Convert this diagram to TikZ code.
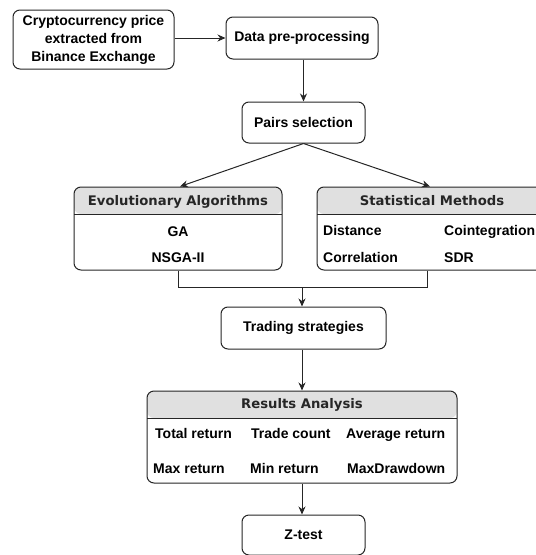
\documentclass[tikz,border=0pt]{standalone}
\usepackage{fontspec}
\setmainfont{Liberation Sans}
\newfontfamily\hdrfont{DejaVu Sans}
\usetikzlibrary{arrows.meta,calc}
\definecolor{linec}{HTML}{262626}
\definecolor{hdrfill}{HTML}{E0E0E0}
\begin{document}
\begin{tikzpicture}[x=1pt,y=-1pt,
  box/.style={draw=linec, line width=1pt, rounded corners=7pt, fill=white,
    align=center, inner sep=0pt,
    font=\bfseries\fontsize{14}{18}\selectfont},
  swim/.style={box, path picture={
      \fill[hdrfill] (path picture bounding box.north west) rectangle
        ($(path picture bounding box.north east)+(0,27)$);
      \draw[linec, line width=1pt]
        ($(path picture bounding box.north west)+(0,27)$) --
        ($(path picture bounding box.north east)+(0,27)$);}},
  lbl/.style={inner sep=0pt, text height=10pt, text depth=0pt,
    font=\bfseries\fontsize{14}{16}\selectfont},
  hdr/.style={inner sep=0pt, text height=9.6pt, text depth=0pt,
    font=\hdrfont\bfseries\fontsize{13.2}{15}\selectfont, text=black!85},
  arr/.style={draw=linec, line width=1pt, -{Stealth[length=8pt,width=7pt]}},
  wire/.style={draw=linec, line width=1pt}
]
\useasboundingbox (0,0) rectangle (536,555);

% process boxes
\node[box, minimum width=161pt, minimum height=59pt] (crypto) at (93.5,39.5)
  {Cryptocurrency price\\extracted from\\Binance Exchange};
\node[box, minimum width=152pt, minimum height=42pt] (prep) at (302,38)
  {Data pre-processing};
\node[box, minimum width=123pt, minimum height=41pt] (pairs) at (303.5,122.5)
  {Pairs selection};
\node[box, minimum width=165pt, minimum height=42pt] (trade) at (303.5,328)
  {Trading strategies};
\node[box, minimum width=123pt, minimum height=40pt] (ztest) at (303.5,535)
  {Z-test};

% grouped boxes with a grey title band
\node[swim, minimum width=208pt, minimum height=83pt] (ea) at (178,228.5) {};
\node[swim, minimum width=230pt, minimum height=83pt] (sm) at (432,228.5) {};
\node[swim, minimum width=310pt, minimum height=92pt] (res) at (302,437) {};

\node[hdr] (eatitle) at (178,200.5) {Evolutionary Algorithms};
\node[hdr] (smtitle) at (432,200.5) {Statistical Methods};
\node[hdr] (restitle) at (302,404) {Results Analysis};

\node[lbl] (ga) at (178,231) {GA};
\node[lbl] (nsga) at (178,257) {NSGA-II};

\node[lbl, anchor=west] (dist) at (323,230) {Distance};
\node[lbl, anchor=west] (coint) at (444,230) {Cointegration};
\node[lbl, anchor=west] (corr) at (323,257) {Correlation};
\node[lbl, anchor=west] (sdr) at (444,257) {SDR};

\node[lbl, anchor=west] (totret) at (155,433) {Total return};
\node[lbl, anchor=west] (tcount) at (251,433) {Trade count};
\node[lbl, anchor=west] (avgret) at (346,433) {Average return};
\node[lbl, anchor=west] (maxret) at (153,468) {Max return};
\node[lbl, anchor=west] (minret) at (250,468) {Min return};
\node[lbl, anchor=west] (mdd) at (347,468) {MaxDrawdown};

% connectors
\draw[arr] (crypto.east |- prep.west) -- (prep.west);
\draw[arr] (prep.south -| pairs.north) -- (pairs.north);
\draw[arr] (pairs.south) -- ([xshift=2pt]ea.north);
\draw[arr] (pairs.south) -- ([xshift=-2pt]sm.north);
\coordinate (merge) at (302,287);
\draw[wire] (ea.south) |- (merge);
\draw[wire] ([xshift=-5pt]sm.south) |- (merge);
\draw[arr] (merge) -- (merge |- trade.north);
\draw[arr] (merge |- trade.south) -- (merge |- res.north);
\draw[arr] (res.south) -- (res.south |- ztest.north);
\end{tikzpicture}
\end{document}
